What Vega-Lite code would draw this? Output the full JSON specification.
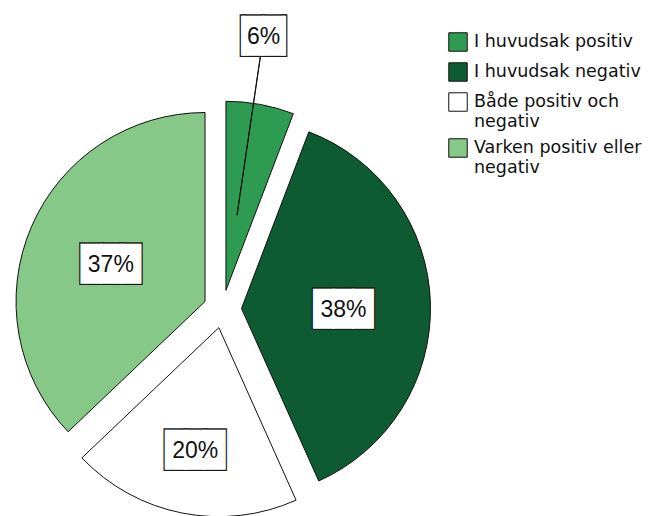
{
  "$schema": "https://vega.github.io/schema/vega-lite/v6.json",
  "width": 445,
  "height": 414,
  "autosize": "none",
  "padding": {"left": 0, "top": 102, "right": 204, "bottom": 0},
  "background": "white",
  "config": {"view": {"stroke": null}},
  "data": {
    "values": [
      {"cat": "I huvudsak positiv", "pct": 5.8, "label": "6%", "ord": 1},
      {"cat": "I huvudsak negativ", "pct": 37.5, "label": "38%", "ord": 2},
      {"cat": "Både positiv och negativ", "pct": 19.6, "label": "20%", "ord": 3},
      {"cat": "Varken positiv eller negativ", "pct": 37.1, "label": "37%", "ord": 4}
    ]
  },
  "transform": [
    {"stack": "pct", "groupby": [], "sort": [{"field": "ord", "order": "ascending"}], "as": ["v0", "v1"]}
  ],
  "layer": [
    {
      "mark": {
        "type": "arc",
        "outerRadius": 189,
        "stroke": "#111111",
        "strokeWidth": 1,
        "xOffset": {"expr": "19*sin(PI*(datum.v0+datum.v1)/100)"},
        "yOffset": {"expr": "-19*cos(PI*(datum.v0+datum.v1)/100)"}
      },
      "encoding": {
        "theta": {"field": "v0", "type": "quantitative", "scale": {"domain": [0, 100], "range": [0, 6.283185307179586]}},
        "theta2": {"field": "v1"},
        "order": {"field": "ord"},
        "color": {
          "field": "cat",
          "type": "nominal",
          "sort": null,
          "scale": {
            "domain": ["I huvudsak positiv", "I huvudsak negativ", "Både positiv och negativ", "Varken positiv eller negativ"],
            "range": ["#2e9b53", "#0e5a32", "#ffffff", "#86c887"]
          },
          "legend": {
            "title": null,
            "orient": "none",
            "legendX": 448,
            "legendY": -70,
            "padding": 0,
            "symbolType": "square",
            "symbolSize": 340,
            "symbolStrokeColor": "#111111",
            "symbolStrokeWidth": 1,
            "symbolOpacity": 1,
            "labelFont": "DejaVu Sans",
            "labelFontSize": 17.5,
            "labelColor": "#111111",
            "labelLimit": 220,
            "labelOffset": 6,
            "labelBaseline": "middle",
            "labelExpr": "datum.label == 'Både positiv och negativ' ? ['Både positiv och', 'negativ'] : datum.label == 'Varken positiv eller negativ' ? ['Varken positiv eller', 'negativ'] : datum.label",
            "rowPadding": 6
          }
        }
      }
    },
    {
      "transform": [{"filter": "datum.ord == 1"}],
      "mark": {
        "type": "arc",
        "filled": false,
        "stroke": "#111111",
        "strokeWidth": 1,
        "radius": 239,
        "radius2": 76,
        "theta": {"expr": "PI*(datum.v0+datum.v1)/100 - 0.0365"},
        "theta2": {"expr": "PI*(datum.v0+datum.v1)/100 - 0.0355"},
        "xOffset": {"expr": "19*sin(PI*(datum.v0+datum.v1)/100)"},
        "yOffset": {"expr": "-19*cos(PI*(datum.v0+datum.v1)/100)"}
      },
      "encoding": {}
    },
    {
      "mark": {
        "type": "text",
        "font": "DejaVu Sans Mono",
        "fontSize": 32.6,
        "align": "center",
        "baseline": "middle",
        "dy": 4,
        "fill": "white",
        "stroke": "#1a1a1a",
        "strokeWidth": 4,
        "theta": {"expr": "PI*(datum.v0+datum.v1)/100 - (datum.ord == 1 ? 0.037 : 0)"},
        "radius": {"expr": "datum.ord == 1 ? 260 : 130*sin(PI*(datum.v1-datum.v0)/100)/(PI*(datum.v1-datum.v0)/100)"},
        "xOffset": {"expr": "19*sin(PI*(datum.v0+datum.v1)/100)"},
        "yOffset": {"expr": "-19*cos(PI*(datum.v0+datum.v1)/100)"}
      },
      "encoding": {
        "text": {"condition": {"test": "datum.ord == 1", "value": "▕██▏"}, "value": "███"}
      }
    },
    {
      "mark": {
        "type": "text",
        "font": "DejaVu Sans Mono",
        "fontSize": 32.6,
        "align": "center",
        "baseline": "middle",
        "dy": 4,
        "fill": "white",
        "stroke": "white",
        "strokeWidth": 1.4,
        "theta": {"expr": "PI*(datum.v0+datum.v1)/100 - (datum.ord == 1 ? 0.037 : 0)"},
        "radius": {"expr": "datum.ord == 1 ? 260 : 130*sin(PI*(datum.v1-datum.v0)/100)/(PI*(datum.v1-datum.v0)/100)"},
        "xOffset": {"expr": "19*sin(PI*(datum.v0+datum.v1)/100)"},
        "yOffset": {"expr": "-19*cos(PI*(datum.v0+datum.v1)/100)"}
      },
      "encoding": {
        "text": {"condition": {"test": "datum.ord == 1", "value": "▕██▏"}, "value": "███"}
      }
    },
    {
      "mark": {
        "type": "text",
        "font": "Liberation Sans",
        "fontSize": 23,
        "align": "center",
        "baseline": "middle",
        "dy": 4,
        "fill": "#111111",
        "theta": {"expr": "PI*(datum.v0+datum.v1)/100 - (datum.ord == 1 ? 0.037 : 0)"},
        "radius": {"expr": "datum.ord == 1 ? 260 : 130*sin(PI*(datum.v1-datum.v0)/100)/(PI*(datum.v1-datum.v0)/100)"},
        "xOffset": {"expr": "19*sin(PI*(datum.v0+datum.v1)/100)"},
        "yOffset": {"expr": "-19*cos(PI*(datum.v0+datum.v1)/100)"}
      },
      "encoding": {
        "text": {"field": "label", "type": "nominal"}
      }
    }
  ]
}
